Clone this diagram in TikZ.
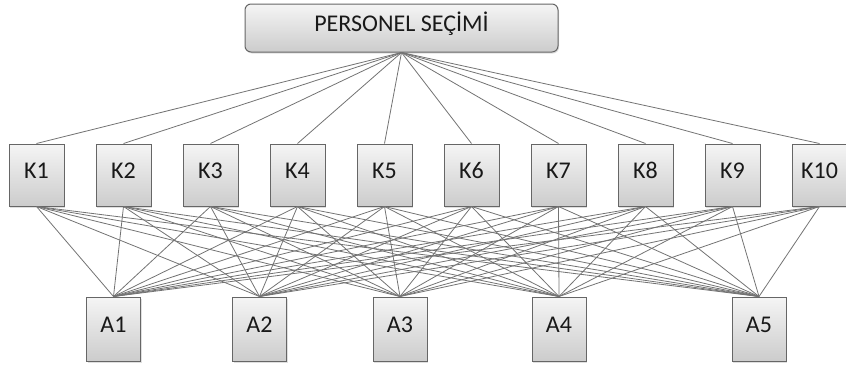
\documentclass[tikz,border=0pt]{standalone}
\usepackage{fontspec}
\setmainfont{Carlito}
\usetikzlibrary{shadows}

\tikzset{
	kutu/.style={draw=black!60, line width=1pt, top color=black!4, bottom color=black!20,
		minimum width=55pt, minimum height=62pt, inner sep=0pt, text=black!90,
		font=\fontsize{24}{26}\selectfont, text height=0.64em, text depth=0pt,
		drop shadow={opacity=0.25, shadow xshift=1pt, shadow yshift=-1.5pt}},
	baslik/.style={kutu, rounded corners=6pt, minimum width=313pt, minimum height=48pt},
	bag/.style={draw=black!55, line width=0.8pt}
}

\begin{document}
\begin{tikzpicture}[x=1pt, y=-1pt]
		\useasboundingbox (0,0) rectangle (846,367);

		% ana hedef
		\node[baslik] (ps) at (401.5, 28) {PERSONEL SEÇİMİ};

		% kriterler
		\foreach \i in {1,...,10}
			\node[kutu] (k\i) at ({36.5+87*(\i-1)}, 175) {K\i};

		% alternatifler
		\node[kutu, minimum width=54pt, minimum height=64pt] (a1) at (113.5, 329) {A1};
		\node[kutu, minimum width=54pt, minimum height=64pt] (a2) at (259.5, 329) {A2};
		\node[kutu, minimum width=54pt, minimum height=64pt] (a3) at (400, 329) {A3};
		\node[kutu, minimum width=54pt, minimum height=64pt] (a4) at (559, 329) {A4};
		\node[kutu, minimum width=54pt, minimum height=64pt] (a5) at (759, 329) {A5};

		% baglantilar
		\foreach \i in {1,...,10} {
			\draw[bag] (ps.south) -- (k\i.north);
			\foreach \j in {1,...,5}
				\draw[bag] (k\i.south) -- (a\j.north);
		}
\end{tikzpicture}
\end{document}
